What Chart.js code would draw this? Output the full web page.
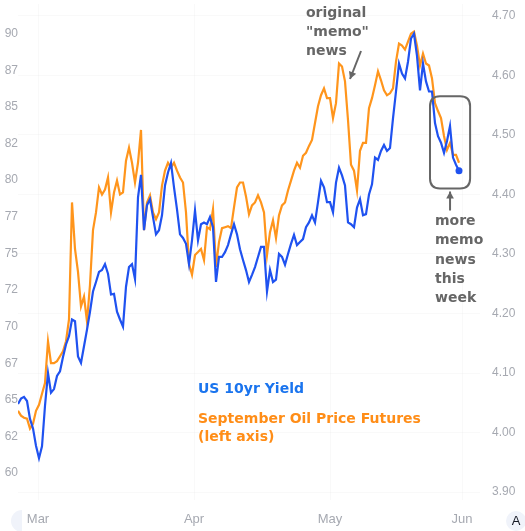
<!DOCTYPE html>
<html>
<head>
<meta charset="utf-8">
<script src="https://cdn.jsdelivr.net/npm/chart.js@4"></script>
<style>
  html, body { margin: 0; padding: 0; background: #ffffff; }
  #wrap { position: relative; width: 525px; height: 531px; }
</style>
</head>
<body>
<div id="wrap"><canvas id="c" width="525" height="531"></canvas></div>
<script>
// ---- DATA ----
// US 10yr yield (right axis), sampled at equal intervals from late Feb to end of May
const yieldValues = [
  4.048,4.057,4.060,4.053,4.023,4.007,3.978,3.957,3.977,4.045,4.100,4.067,4.073,4.095,4.103,4.127,4.148,4.162,4.190,4.187,
  4.128,4.117,4.145,4.173,4.203,4.237,4.253,4.270,4.273,4.283,4.267,4.232,4.233,4.203,4.190,4.178,4.245,4.278,4.283,4.258,
  4.395,4.433,4.340,4.382,4.392,4.362,4.333,4.340,4.365,4.415,4.437,4.453,4.412,4.375,4.333,4.327,4.317,4.283,4.323,4.373,
  4.323,4.350,4.353,4.350,4.362,4.345,4.253,4.295,4.295,4.303,4.315,4.333,4.350,4.333,4.308,4.290,4.273,4.253,4.265,4.278,
  4.295,4.312,4.312,4.237,4.273,4.253,4.257,4.300,4.295,4.282,4.300,4.317,4.332,4.315,4.320,4.325,4.345,4.353,4.365,4.353,
  4.387,4.423,4.412,4.387,4.387,4.370,4.420,4.445,4.432,4.415,4.353,4.350,4.345,4.378,4.392,4.365,4.367,4.400,4.417,4.462,
  4.458,4.473,4.483,4.473,4.478,4.528,4.573,4.620,4.603,4.595,4.623,4.662,4.670,4.633,4.575,4.620,4.590,4.573,4.573,4.520,
  4.498,4.487,4.470,4.490,4.515,4.462,4.450,4.440
];
// September oil price futures (left axis), same sampling
const oilValues = [
  64.25,63.92,63.78,63.71,63.04,63.37,64.25,64.66,65.41,66.15,69.00,67.51,67.51,67.64,67.98,68.32,69.00,70.49,78.48,75.30,
  73.74,71.37,72.05,70.35,72.86,76.59,77.80,79.50,79.02,79.36,80.18,77.80,79.16,79.97,79.02,79.16,81.33,82.21,81.19,79.84,
  81.19,83.43,76.59,78.48,78.96,77.80,77.33,77.80,79.63,80.65,81.19,80.85,81.19,80.65,80.18,79.84,77.80,74.28,73.54,74.89,
  75.09,75.30,74.55,76.79,76.65,78.01,74.08,75.77,76.72,76.79,76.86,76.72,78.14,79.50,79.84,79.84,78.89,77.67,78.28,78.48,
  78.96,78.48,77.80,74.89,76.45,77.26,76.04,77.60,78.28,78.48,79.30,79.97,80.65,81.19,80.85,81.67,81.87,82.34,82.75,83.90,
  85.05,85.80,86.27,85.60,85.60,84.24,85.26,87.97,87.76,86.75,84.11,81.06,80.65,79.30,82.01,82.55,82.55,84.92,85.60,86.48,
  87.43,86.82,86.14,85.80,85.93,86.27,88.10,89.32,89.19,88.92,89.46,90.00,90.14,89.19,87.83,88.64,87.97,87.83,86.95,85.26,
  84.72,84.24,83.02,82.07,82.55,81.73,81.73,81.19
];
// month labels and their position on the sample index axis
const monthLabels = ['Mar', 'Apr', 'May', 'Jun'];
const monthIndex = [6.67, 58.67, 104, 148];
// axis tick values
const oilTicks = [60, 62.5, 65, 67.5, 70, 72.5, 75, 77.5, 80, 82.5, 85, 87.5, 90];
const yieldTicks = [3.9, 4.0, 4.1, 4.2, 4.3, 4.4, 4.5, 4.6, 4.7];
// text
const seriesNames = ['US 10yr Yield', 'September Oil Price Futures', '(left axis)'];
const note1 = ['original', '"memo"', 'news'];
const note2 = ['more', 'memo', 'news', 'this', 'week'];

const BLUE = '#1f52f0';
const ORANGE = '#ff951c';
const GRAY = '#666666';
const AXIS_TXT = '#a6a9b1';

const yieldPts = yieldValues.map((v, i) => ({ x: i, y: v }));
const oilPts = oilValues.map((v, i) => ({ x: i, y: v }));

function arrowTo(ctx, x1, y1, x2, y2) {
  ctx.beginPath(); ctx.moveTo(x1, y1); ctx.lineTo(x2, y2); ctx.stroke();
  const a = Math.atan2(y2 - y1, x2 - x1), L = 8, W = 0.5;
  ctx.beginPath();
  ctx.moveTo(x2, y2);
  ctx.lineTo(x2 - L * Math.cos(a - W), y2 - L * Math.sin(a - W));
  ctx.lineTo(x2 - L * Math.cos(a + W), y2 - L * Math.sin(a + W));
  ctx.closePath(); ctx.fill();
}
function roundRect(ctx, x, y, w, h, r) {
  ctx.beginPath();
  ctx.moveTo(x + r, y); ctx.lineTo(x + w - r, y); ctx.quadraticCurveTo(x + w, y, x + w, y + r);
  ctx.lineTo(x + w, y + h - r); ctx.quadraticCurveTo(x + w, y + h, x + w - r, y + h);
  ctx.lineTo(x + r, y + h); ctx.quadraticCurveTo(x, y + h, x, y + h - r);
  ctx.lineTo(x, y + r); ctx.quadraticCurveTo(x, y, x + r, y); ctx.closePath();
}
function noPad(s) { s.paddingTop = 0; s.paddingBottom = 0; s.paddingLeft = 0; s.paddingRight = 0; }

const notes = {
  id: 'notes',
  afterDraw(chart) {
    const ctx = chart.ctx;
    const xs = chart.scales.x, yr = chart.scales.yr;
    ctx.save();
    ctx.font = 'bold 14px "DejaVu Sans", Verdana, sans-serif';
    ctx.textBaseline = 'alphabetic';
    ctx.textAlign = 'left';
    // legend
    ctx.fillStyle = '#1a74ee';
    ctx.fillText(seriesNames[0], 198, 393);
    ctx.fillStyle = '#ff8d17';
    ctx.fillText(seriesNames[1], 198, 423);
    ctx.fillText(seriesNames[2], 198, 441);
    // note 1
    ctx.fillStyle = GRAY;
    note1.forEach((t, k) => ctx.fillText(t, 306, 17 + k * 19));
    ctx.strokeStyle = GRAY; ctx.lineWidth = 2;
    arrowTo(ctx, 361, 51, 350, 79);
    // box around the latest readings
    const n = yieldValues.length;
    const bx1 = xs.getPixelForValue(n - 10) - 2, bx2 = xs.getPixelForValue(n + 2.7);
    const by1 = yr.getPixelForValue(4.565), by2 = yr.getPixelForValue(4.41);
    roundRect(ctx, bx1, by1, bx2 - bx1, by2 - by1, 10);
    ctx.stroke();
    const ax = (bx1 + bx2) / 2;
    arrowTo(ctx, ax, by2 + 22, ax, by2 + 3);
    note2.forEach((t, k) => ctx.fillText(t, 435, 225 + k * 19.3));
    // chart-widget buttons at the bottom
    ctx.fillStyle = '#f0f3fa';
    ctx.beginPath(); ctx.arc(516, 521, 10, 0, Math.PI * 2); ctx.fill();
    ctx.fillStyle = '#131722';
    ctx.font = '13px "Liberation Sans", Arial, sans-serif';
    ctx.textAlign = 'center'; ctx.textBaseline = 'middle';
    ctx.fillText('A', 516, 521.5);
    ctx.fillStyle = '#f0f3fa';
    ctx.beginPath(); ctx.arc(22, 521, 11, Math.PI * 0.5, Math.PI * 1.5); ctx.fill();
    ctx.restore();
  }
};

new Chart(document.getElementById('c'), {
  type: 'line',
  data: {
    datasets: [
      { label: seriesNames[0], data: yieldPts, yAxisID: 'yr', borderColor: BLUE, borderWidth: 2.2,
        pointRadius: yieldPts.map((p, i) => i === yieldPts.length - 1 ? 3.5 : 0),
        pointBackgroundColor: BLUE, pointBorderWidth: 0, tension: 0 },
      { label: seriesNames[1], data: oilPts, yAxisID: 'yl', borderColor: ORANGE, borderWidth: 2.2,
        pointRadius: 0, tension: 0 }
    ]
  },
  options: {
    responsive: false,
    animation: false,
    devicePixelRatio: 1,
    layout: { padding: 0 },
    plugins: { legend: { display: false }, tooltip: { enabled: false } },
    scales: {
      x: {
        type: 'linear', min: 0, max: 154, position: 'bottom',
        afterFit(s) { s.height = 31; noPad(s); },
        afterBuildTicks(s) { s.ticks = monthIndex.map(v => ({ value: v })); },
        ticks: {
          padding: 12, color: AXIS_TXT, maxRotation: 0, autoSkip: false,
          font: { family: '"Liberation Sans", Arial, sans-serif', size: 13 },
          callback: (v) => monthLabels[monthIndex.indexOf(v)]
        },
        grid: { color: 'rgba(0,0,0,0.025)', drawTicks: false },
        border: { display: false }
      },
      yl: {
        type: 'linear', position: 'left', min: 58.16, max: 92.03,
        afterFit(s) { s.width = 18; noPad(s); },
        afterBuildTicks(s) { s.ticks = oilTicks.map(v => ({ value: v })); },
        ticks: {
          padding: 0, color: AXIS_TXT,
          font: { family: '"Liberation Sans", Arial, sans-serif', size: 12 },
          callback: (v) => String(Math.floor(v))
        },
        grid: { display: false, drawTicks: false },
        border: { display: false }
      },
      yr: {
        type: 'linear', position: 'right', min: 3.8867, max: 4.72,
        afterFit(s) { s.width = 45; noPad(s); },
        afterBuildTicks(s) { s.ticks = yieldTicks.map(v => ({ value: v })); },
        ticks: {
          padding: 12, color: AXIS_TXT,
          font: { family: '"Liberation Sans", Arial, sans-serif', size: 12 },
          callback: (v) => Number(v).toFixed(2)
        },
        grid: { color: 'rgba(0,0,0,0.025)', drawTicks: false },
        border: { display: false }
      }
    }
  },
  plugins: [notes]
});
</script>
</body>
</html>
